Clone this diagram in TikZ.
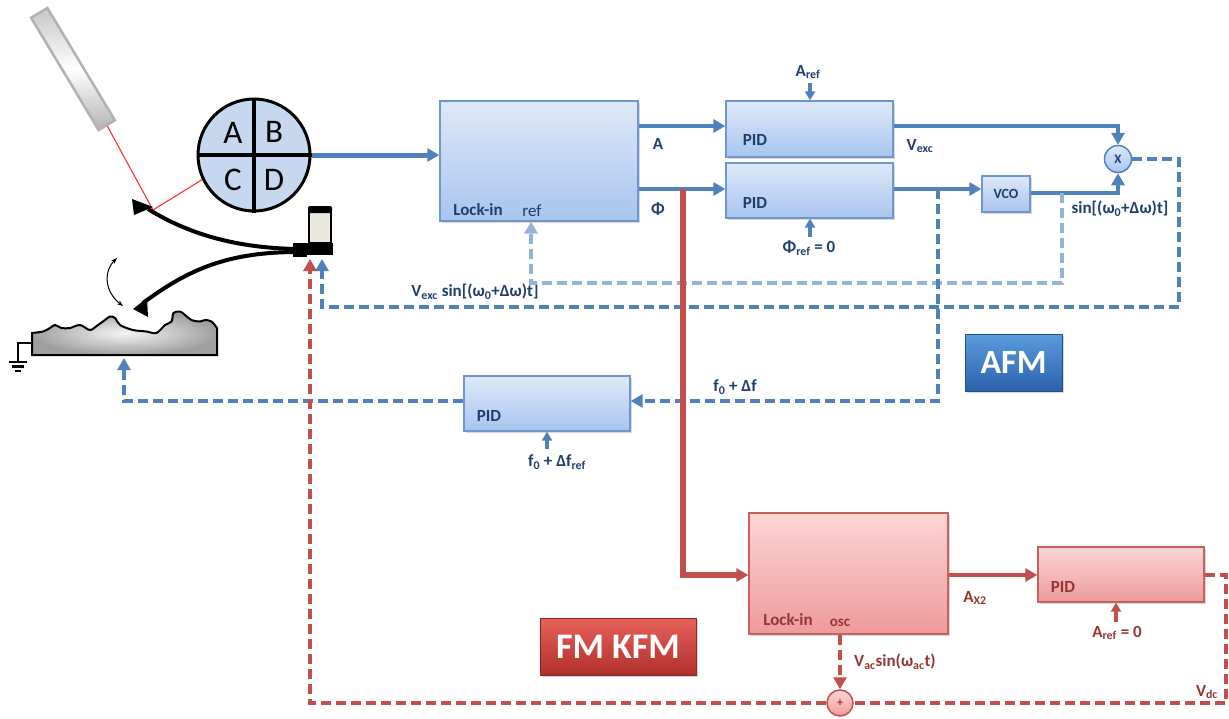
\documentclass[tikz,border=0pt]{standalone}
\usepackage{fontspec}
\setmainfont{Carlito}
\usetikzlibrary{arrows.meta,shadows,calc}

\definecolor{oblue}{HTML}{4F81BD}
\definecolor{lblue}{HTML}{95B3D7}
\definecolor{ored}{HTML}{C0504D}
\definecolor{btext}{HTML}{1F3E6E}
\definecolor{rtext}{HTML}{943634}
\definecolor{boxtop}{HTML}{DDE9F8}
\definecolor{boxbot}{HTML}{A8C5EE}
\definecolor{boxline}{HTML}{6F97CB}
\definecolor{pinktop}{HTML}{FBD6D4}
\definecolor{pinkbot}{HTML}{EE9B99}
\definecolor{pinkline}{HTML}{C9605D}
\definecolor{pdfill}{HTML}{C5D8EF}
\definecolor{piezo}{HTML}{EBE8DC}
\definecolor{afmtop}{HTML}{5B9BE0}
\definecolor{afmbot}{HTML}{2B62AA}
\definecolor{kfmtop}{HTML}{E8625D}
\definecolor{kfmbot}{HTML}{B02E2A}
\definecolor{beam}{HTML}{FF3030}

\tikzset{
  shade/.style={drop shadow={shadow xshift=1.5pt, shadow yshift=-1.5pt, opacity=0.3}},
  bbox/.style={draw=boxline, line width=1.3pt, top color=boxtop, bottom color=boxbot, shade},
  pbox/.style={draw=pinkline, line width=1.3pt, top color=pinktop, bottom color=pinkbot, shade},
  blab/.style={text=btext, font=\fontsize{17}{20}\selectfont\bfseries, inner sep=0pt},
  rlab/.style={text=rtext, font=\fontsize{17}{20}\selectfont\bfseries, inner sep=0pt},
  tip/.style={-{Triangle[length=12pt,width=13pt]}},
  stip/.style={-{Triangle[length=9pt,width=10pt]}},
  bsig/.style={draw=oblue, line width=3.6pt},
  bthick/.style={draw=oblue, line width=5pt},
  bdash/.style={draw=oblue, line width=3.4pt, dash pattern=on 10pt off 5pt},
  ldash/.style={draw=lblue, line width=3.4pt, dash pattern=on 10pt off 5pt},
  rsig/.style={draw=ored, line width=3.6pt},
  rthick/.style={draw=ored, line width=5.5pt},
  rdash/.style={draw=ored, line width=3.4pt, dash pattern=on 10pt off 5pt},
  button/.style={line width=1pt, text=white, font=\bfseries, shade},
}

\begin{document}
\begin{tikzpicture}[x=1pt,y=-1pt]
\useasboundingbox (0,0) rectangle (1229,718);

% ---------- laser, photodiode, cantilevers, sample ----------
\node[rotate=-59, minimum width=131pt, minimum height=19pt, inner sep=0pt,
      draw=gray!60, line width=2.5pt, top color=gray!45, bottom color=gray!60,
      middle color=white] (laser) at (73,69) {};
\coordinate (refl) at (153,210);
\coordinate (pdC) at (221,168);
\draw[beam, line width=1.1pt] (laser.east) -- (refl);
\draw[beam, line width=1.1pt, -{Straight Barb[length=8pt,width=11pt]}] (refl) -- (pdC);

\node[circle, minimum size=112pt, inner sep=0pt, fill=pdfill, draw=black, line width=3pt] (pd) at (254,155) {};
\draw[line width=4.5pt] (pd.north) -- (pd.south);
\draw[line width=4.5pt] (pd.west) -- (pd.east);
\node[font=\fontsize{33}{33}\selectfont, inner sep=0pt] (qA) at (233,133) {A};
\node[font=\fontsize{33}{33}\selectfont, inner sep=0pt] (qB) at (274,132) {B};
\node[font=\fontsize{33}{33}\selectfont, inner sep=0pt] (qC) at (233,180) {C};
\node[font=\fontsize{33}{33}\selectfont, inner sep=0pt] (qD) at (274,180) {D};

% cantilever holder with piezo
\fill (293,243) rectangle (333,255);
\fill (293,255) rectangle (307,257);
\draw[fill=piezo, line width=2pt] (309,210) rectangle (331,243);
\fill[rounded corners=2pt] (308,206) rectangle (332,213);
\coordinate (vdcIn) at (310,259);
\coordinate (excIn) at (322,259);

% the two cantilever positions
\draw[line width=4pt] (148,209) .. controls (182,230) and (228,248) .. (298,249);
\fill (132,199) -- (153,207) -- (134,215) -- cycle;
\draw[line width=4pt] (298,252) .. controls (230,252) and (190,268) .. (143,303);
\fill (133,309) -- (147,298) -- (148,317) -- cycle;
\draw[line width=1pt, {Stealth[length=6pt]}-{Stealth[length=6pt]}] (117,258) .. controls (103,272) and (105,292) .. (123,306);

% sample with rough surface and ground
\draw[line width=2pt, inner color=gray!8, outer color=gray!75]
  (32,355) -- plot[smooth, tension=0.55] coordinates {
  (32,333) (43,331.5) (50,328) (55,325) (61.5,328) (70,328) (80,325) (90,330) (98,325)
  (105,320) (110,316.5) (115,318) (120,325) (133,330) (146.5,331.5) (156.5,333)
  (165,325) (171.5,321.5) (173.5,313) (180,311.5) (185,315) (191.5,320) (200,321.5)
  (205,320) (211.5,321.5) (217,328)} -- (217,355) -- cycle;
\coordinate (sampleIn) at (124,358);
\draw[line width=2pt] (32,343) -- (18,343) -- (18,362);
\draw[line width=2.5pt] (9,362) -- (27,362);
\draw[line width=2.5pt] (12,366.5) -- (24,366.5);
\draw[line width=2.5pt] (15,371) -- (21,371);

% ---------- AFM blocks ----------
\node[bbox, minimum width=198pt, minimum height=120pt] (lockA) at (539,161) {};
\node[blab] (tLockA) at (478,210) {Lock-in};
\node[blab, font=\fontsize{17}{20}\selectfont] (tRef) at (532,211) {ref};

\node[bbox, minimum width=167pt, minimum height=56pt] (pidA) at (809.5,129) {};
\node[blab] (tPidA) at (755,140) {PID};
\node[bbox, minimum width=167pt, minimum height=55pt] (pidP) at (809.5,190.5) {};
\node[blab] (tPidP) at (755,203) {PID};
\node[bbox, minimum width=48pt, minimum height=36pt, text=btext, font=\fontsize{14}{16}\selectfont\bfseries] (vco) at (1006,194) {VCO};
\node[circle, minimum size=27pt, inner sep=0pt, draw=oblue, line width=1.5pt, top color=boxtop, bottom color=boxbot,
      text=btext, font=\fontsize{13}{13}\selectfont\bfseries] (xm) at (1118,159) {X};
\node[bbox, minimum width=166pt, minimum height=55pt] (pidF) at (547,403.5) {};
\node[blab] (tPidF) at (489,416) {PID};

\node[button, minimum width=97pt, minimum height=57pt, draw=afmbot!80!black, top color=afmtop, bottom color=afmbot,
      font=\fontsize{34}{34}\selectfont\bfseries] (afm) at (1013.5,362.5) {AFM};

% AFM labels
\node[blab] (lA) at (658,144) {A};
\node[blab] (lPhi) at (658,209) {Φ};
\node[blab] (aref) at (808,72) {A\textsubscript{ref}};
\node[blab] (phiref) at (809,248) {Φ\textsubscript{ref} = 0};
\node[blab] (lVexc) at (920,146) {V\textsubscript{exc}};
\node[blab] (lSin) at (1120,209) {sin[(ω\textsubscript{0}+Δω)t]};
\node[blab] (lExc) at (475,292) {V\textsubscript{exc} sin[(ω\textsubscript{0}+Δω)t]};
\node[blab] (lF) at (735,387) {f\textsubscript{0} + Δf};
\node[blab] (fRef) at (557,462) {f\textsubscript{0} + Δf\textsubscript{ref}};

% AFM signal paths
\draw[bthick, tip] (pd.east) -- (lockA.west |- pd.east);
\draw[bsig, tip] (lockA.east |- 0,126) -- (pidA.west |- 0,126);
\draw[bsig, tip] (lockA.east |- 0,189) -- (pidP.west |- 0,189);
\draw[bsig, tip] (pidA.east |- 0,126) -| (xm.north);
\draw[bsig, tip] (pidP.east |- 0,189) -- (vco.west |- 0,189);
\draw[bsig, tip] (vco.east |- 0,193) -| (xm.south);
\draw[bsig, stip] (aref.south -| 810,0) ++(0,4) -- (pidA.north -| 810,0);
\draw[bsig, stip] (phiref.north -| 810,0) ++(0,-4) -- (pidP.south -| 810,0);
\draw[bsig, stip] (pidF.south |- 0,449) -- (pidF.south);

\coordinate (vcoTap) at (1062,193);
\coordinate (phiTap) at (938,189);
\coordinate (redTap) at (683,189);

\draw[ldash, tip] (vcoTap) |- (531,283) -- (lockA.south -| 531,0);
\draw[bdash, tip] (xm.east) -- (1179,159) |- (322,307) -- (excIn);
\draw[bdash, tip] (phiTap) |- (pidF.east |- 0,401);
\draw[bdash, tip] (pidF.west |- 0,401) -| (sampleIn);

% ---------- FM KFM blocks ----------
\node[pbox, minimum width=199pt, minimum height=121pt] (lockK) at (848.5,573.5) {};
\node[rlab] (tLockK) at (788,620) {Lock-in};
\node[rlab, font=\fontsize{15}{17}\selectfont\bfseries] (tOsc) at (840,623) {osc};
\node[pbox, minimum width=166pt, minimum height=55pt] (pidK) at (1121,574.5) {};
\node[rlab] (tPidK) at (1063,587) {PID};
\node[circle, minimum size=26pt, inner sep=0pt, draw=ored, line width=1.5pt, top color=pinktop, bottom color=pinkbot,
      text=rtext, font=\fontsize{12}{12}\selectfont\bfseries] (plus) at (840,703) {+};

\node[button, minimum width=156pt, minimum height=57pt, draw=kfmbot!80!black, top color=kfmtop, bottom color=kfmbot,
      font=\fontsize{36}{36}\selectfont\bfseries] (kfm) at (618,646.5) {FM KFM};

\node[rlab] (lAx) at (975,598) {A\textsubscript{X2}};
\node[rlab] (arefK) at (1117,633) {A\textsubscript{ref} = 0};
\node[rlab] (lVac) at (895,662) {V\textsubscript{ac}sin(ω\textsubscript{ac}t)};
\node[rlab] (lVdc) at (1207,692) {V\textsubscript{dc}};

% FM KFM signal paths
\draw[rthick, tip] (redTap) |- (lockK.west |- 0,575);
\draw[rsig, tip] (lockK.east |- 0,575) -- (pidK.west |- 0,575);
\draw[rsig, stip] (arefK.north -| 1116,0) ++(0,-4) -- (pidK.south -| 1116,0);
\draw[rdash] (pidK.east |- 0,575) -- (1226,575) |- (plus.east);
\draw[rdash, tip] (lockK.south -| plus.north) -- (plus.north);
\draw[rdash, tip] (plus.west) -| (vdcIn);
\end{tikzpicture}
\end{document}
